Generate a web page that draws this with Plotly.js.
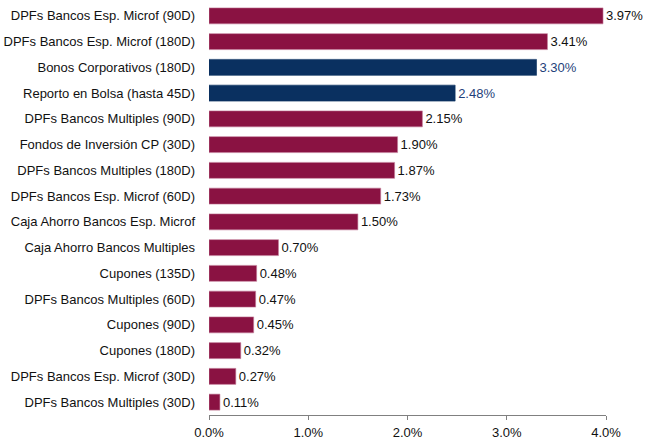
<!DOCTYPE html>
<html>
<head>
<meta charset="utf-8">
<script src="https://cdn.plot.ly/plotly-3.0.1.min.js"></script>
<style>html,body{margin:0;padding:0;background:#fff;}#chart{width:654px;height:440px;}</style>
</head>
<body>
<div id="chart"></div>
<script>
const categories = [
  "DPFs Bancos Esp. Microf (90D)",
  "DPFs Bancos Esp. Microf (180D)",
  "Bonos Corporativos (180D)",
  "Reporto en Bolsa (hasta 45D)",
  "DPFs Bancos Multiples (90D)",
  "Fondos de Inversión CP (30D)",
  "DPFs Bancos Multiples (180D)",
  "DPFs Bancos Esp. Microf (60D)",
  "Caja Ahorro Bancos Esp. Microf",
  "Caja Ahorro Bancos Multiples",
  "Cupones (135D)",
  "DPFs Bancos Multiples (60D)",
  "Cupones (90D)",
  "Cupones (180D)",
  "DPFs Bancos Esp. Microf (30D)",
  "DPFs Bancos Multiples (30D)"
];
const rates = [3.97, 3.41, 3.30, 2.48, 2.15, 1.90, 1.87, 1.73, 1.50, 0.70, 0.48, 0.47, 0.45, 0.32, 0.27, 0.11];
const groups = ["d","d","c","c","d","d","d","d","d","d","d","d","d","d","d","d"];
const xTicks = [0, 1, 2, 3, 4];
const xTickLabels = ["0.0%", "1.0%", "2.0%", "3.0%", "4.0%"];

const barColor = {d: "#8A1242", c: "#0A3060"};
const lineColor = {d: "#C27C98", c: "#0A3060"};
const textColor = {d: "#111111", c: "#1F3F7A"};

const trace = {
  type: "bar",
  orientation: "h",
  x: rates,
  y: categories,
  text: rates.map(v => v.toFixed(2) + "%"),
  textposition: "outside",
  cliponaxis: false,
  constraintext: "none",
  textfont: {family: "Liberation Sans, Arial, sans-serif", size: 13, color: groups.map(g => textColor[g])},
  marker: {color: groups.map(g => barColor[g]), line: {color: groups.map(g => lineColor[g]), width: 0.6}},
  width: 0.62,
  hoverinfo: "none"
};

const layout = {
  width: 654,
  height: 440,
  margin: {l: 209, r: 48, t: 3, b: 25, pad: 0},
  paper_bgcolor: "#fff",
  plot_bgcolor: "#fff",
  showlegend: false,
  font: {family: "Liberation Sans, Arial, sans-serif", size: 13, color: "#111111"},
  xaxis: {
    range: [0, 4],
    tickvals: xTicks,
    ticktext: xTickLabels,
    showgrid: false,
    zeroline: false,
    showline: true,
    linecolor: "#808080",
    linewidth: 1,
    ticks: "outside",
    ticklen: 4,
    tickcolor: "#808080",
    ticklabelstandoff: 1,
    tickfont: {size: 13, color: "#111111"},
    fixedrange: true
  },
  yaxis: {
    type: "category",
    autorange: "reversed",
    showgrid: false,
    zeroline: false,
    showline: false,
    ticks: "",
    ticklabelstandoff: 13,
    tickfont: {size: 13, color: "#111111"},
    fixedrange: true
  }
};

Plotly.newPlot("chart", [trace], layout, {displayModeBar: false, staticPlot: true});
</script>
</body>
</html>
